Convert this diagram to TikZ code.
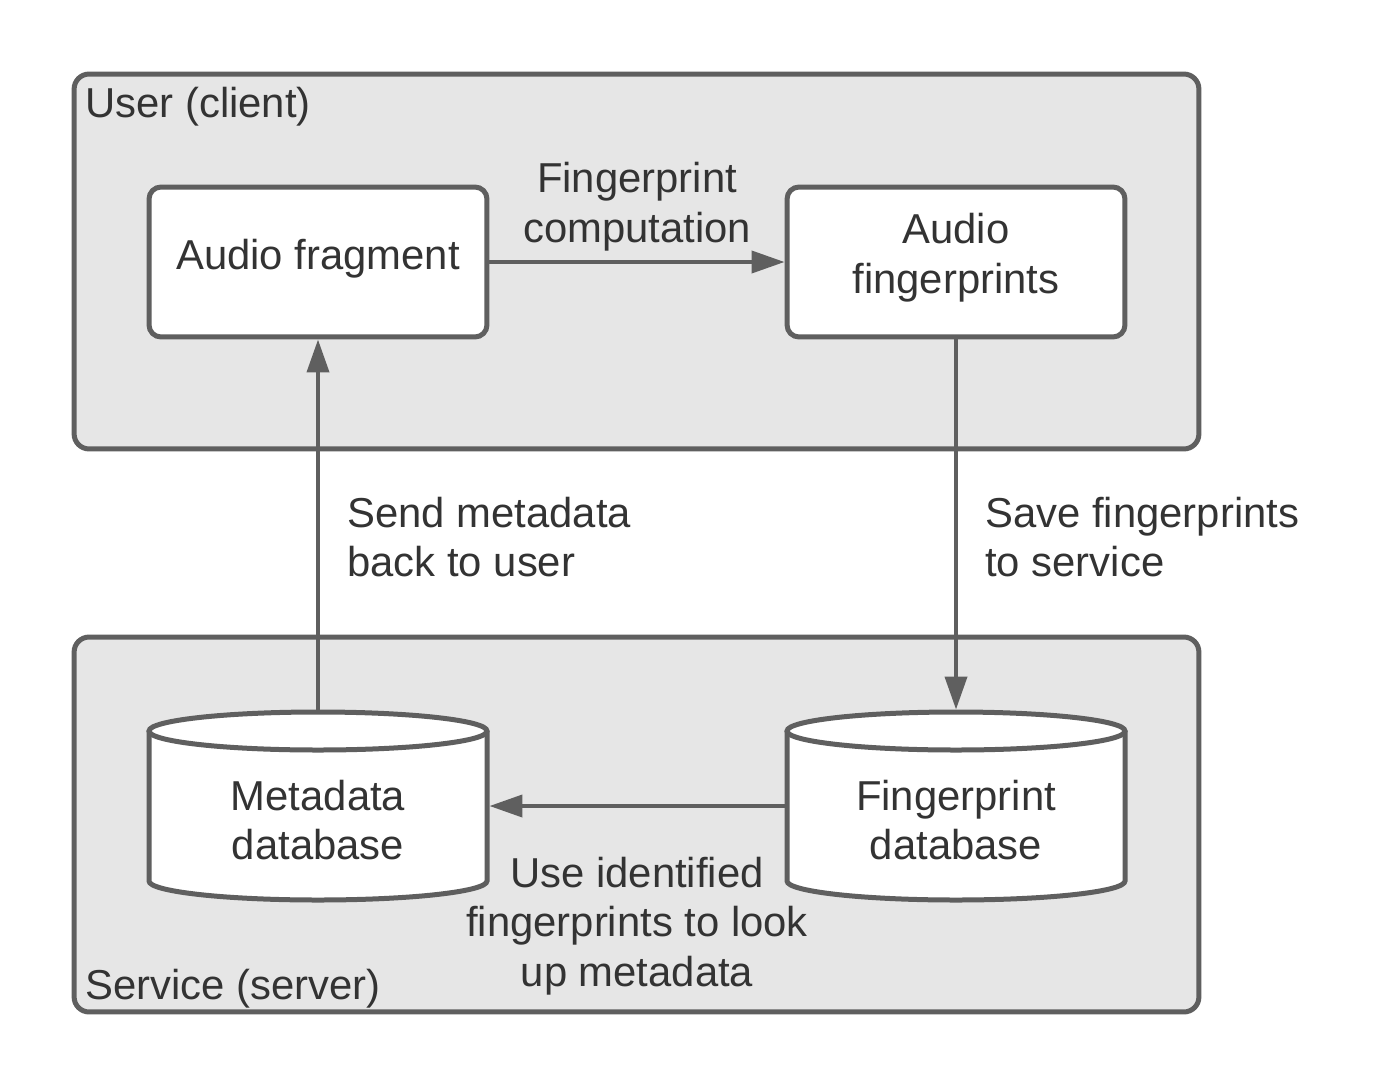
\documentclass[tikz,border=0pt]{standalone}
\usepackage{fontspec}
\setmainfont{Liberation Sans}
\usetikzlibrary{arrows.meta}
\definecolor{bordergray}{HTML}{5F5F5F}
\definecolor{fillgray}{HTML}{E6E6E6}
\definecolor{textgray}{HTML}{333333}
\newcommand\dgfont{\fontsize{23.8pt}{28.35pt}\selectfont}
\begin{document}
\begin{tikzpicture}[x=0.02cm,y=-0.02cm,
 container/.style={draw=bordergray, fill=fillgray, line width=0.1cm, rounded corners=0.3cm, minimum width=22.5cm, minimum height=7.5cm, inner sep=0},
 procbox/.style={draw=bordergray, fill=white, line width=0.1cm, rounded corners=0.24cm, minimum width=6.76cm, minimum height=3cm, inner sep=0},
 dbanchor/.style={minimum width=6.76cm, minimum height=3.76cm, inner sep=0, outer sep=0.05cm},
 lbl/.style={text=textgray, font=\dgfont, inner sep=0},
 arr/.style={draw=bordergray, line width=0.08cm, -{Triangle[length=0.66cm,width=0.44cm]}},
 cyl/.style={draw=bordergray, line width=0.1cm}
]
\fill[white] (0,0) rectangle (1388,1088);
\useasboundingbox (0,0) rectangle (1388,1088);

% containers
\node[container] (user) at (636.5,261.5) {};
\node[container] (service) at (636.5,824.5) {};
\node[lbl, anchor=west] (usertitle) at (85,107) {User (client)};
\node[lbl, anchor=west] (servicetitle) at (85,989) {Service (server)};

% process boxes
\node[procbox] (frag) at (318,262) {};
\node[procbox] (fprint) at (956,262) {};
\node[lbl] (fragtext) at (318,259) {Audio fragment};
\node[lbl, align=center] (fprinttext) at (956,258) {Audio\\fingerprints};

% cylinders
\foreach \cx in {318,956}{
  \fill[white] (\cx-169,731) rectangle (\cx+169,881);
  \fill[white] (\cx,881) ellipse [x radius=169, y radius=19];
  \draw[cyl] (\cx-169,731) -- (\cx-169,881) arc[start angle=180,end angle=0,x radius=169,y radius=19] -- (\cx+169,731);
  \draw[cyl, fill=white] (\cx,731) ellipse [x radius=169, y radius=19];
}
\node[dbanchor] (metadb) at (318,806) {};
\node[dbanchor] (fpdb) at (956,806) {};
\node[lbl, align=center] (metatext) at (318,820) {Metadata\\database};
\node[lbl, align=center] (fptext) at (956,820) {Fingerprint\\database};

% connectors
\draw[arr] (frag.east) -- (fprint.west);
\draw[arr] (fprint.south) -- (fpdb.north);
\draw[arr] (fpdb.west) -- (metadb.east);
\draw[arr] (metadb.north) -- (frag.south);

% connector labels
\node[lbl, align=center] (lcomp) at (637,207) {Fingerprint\\computation};
\node[lbl, align=left, anchor=west] (lsave) at (985,537) {Save fingerprints\\to service};
\node[lbl, align=left, anchor=west] (lsend) at (347,537) {Send metadata\\back to user};
\node[lbl, align=center] (luse) at (637,926) {Use identified\\fingerprints to look\\up metadata};
\end{tikzpicture}
\end{document}
